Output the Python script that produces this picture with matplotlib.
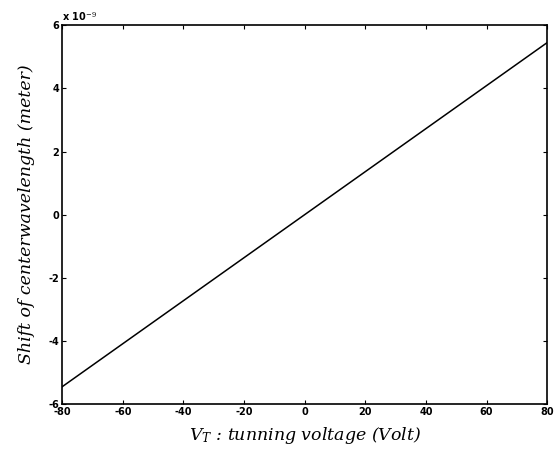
import numpy as np
import matplotlib.pyplot as plt

plt.rcParams['axes.unicode_minus'] = False
plt.rcParams['mathtext.fontset'] = 'dejavuserif'

# tension de commande (V) et décalage de la longueur d'onde centrale (m)
tension = [-80, 80]
decalage = [-5.45e-9, 5.45e-9]

xticks = [-80, -60, -40, -20, 0, 20, 40, 60, 80]
yticks = [-6, -4, -2, 0, 2, 4, 6]

fig = plt.figure(figsize=(5.55, 4.5), dpi=100)
ax = fig.add_axes([0.112, 0.102, 0.874, 0.842])

ax.plot(np.array(tension), np.array(decalage) * 1e9, color='black', lw=1.1)

ax.set_xlim(-80, 80)
ax.set_ylim(-6, 6)
ax.set_xticks(xticks)
ax.set_yticks(yticks)
ax.tick_params(direction='in', length=3, width=0.8, top=True, right=True,
               labelsize=7, pad=2)
for lab in ax.get_xticklabels() + ax.get_yticklabels():
    lab.set_fontweight('bold')
for s in ax.spines.values():
    s.set_linewidth(1.2)

ax.text(0.0, 1.005, r'x 10$^{-9}$', transform=ax.transAxes, fontsize=7,
        fontweight='bold', ha='left', va='bottom', family='DejaVu Sans')

ax.set_xlabel(r'$V_T$ : tunning voltage (Volt)', fontsize=12.5, style='italic',
              family='DejaVu Serif', labelpad=6)
ax.set_ylabel('Shift of centerwavelength (meter)', fontsize=12.5, style='italic',
              family='DejaVu Serif', labelpad=10)

fig.savefig('out.png', dpi=100)
